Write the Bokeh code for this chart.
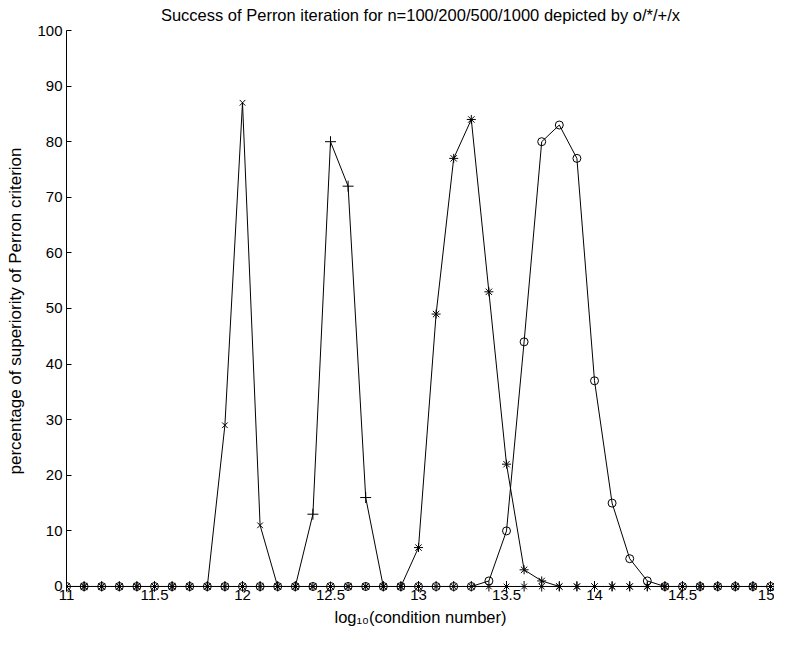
from bokeh.plotting import figure
from bokeh.models import Range1d, FixedTicker, NumeralTickFormatter
from bokeh.embed import file_html
from bokeh.resources import INLINE

# log10(condition number)
x_vals = [11.0, 11.1, 11.2, 11.3, 11.4, 11.5, 11.6, 11.7, 11.8, 11.9,
          12.0, 12.1, 12.2, 12.3, 12.4, 12.5, 12.6, 12.7, 12.8, 12.9,
          13.0, 13.1, 13.2, 13.3, 13.4, 13.5, 13.6, 13.7, 13.8, 13.9,
          14.0, 14.1, 14.2, 14.3, 14.4, 14.5, 14.6, 14.7, 14.8, 14.9,
          15.0]

# percentage of superiority of Perron criterion
n100_o = [0, 0, 0, 0, 0, 0, 0, 0, 0, 0,
          0, 0, 0, 0, 0, 0, 0, 0, 0, 0,
          0, 0, 0, 0, 1, 10, 44, 80, 83, 77,
          37, 15, 5, 1, 0, 0, 0, 0, 0, 0,
          0]
n200_star = [0, 0, 0, 0, 0, 0, 0, 0, 0, 0,
             0, 0, 0, 0, 0, 0, 0, 0, 0, 0,
             7, 49, 77, 84, 53, 22, 3, 1, 0, 0,
             0, 0, 0, 0, 0, 0, 0, 0, 0, 0,
             0]
n500_plus = [0, 0, 0, 0, 0, 0, 0, 0, 0, 0,
             0, 0, 0, 0, 13, 80, 72, 16, 0, 0,
             0, 0, 0, 0, 0, 0, 0, 0, 0, 0,
             0, 0, 0, 0, 0, 0, 0, 0, 0, 0,
             0]
n1000_x = [0, 0, 0, 0, 0, 0, 0, 0, 0, 29,
           87, 11, 0, 0, 0, 0, 0, 0, 0, 0,
           0, 0, 0, 0, 0, 0, 0, 0, 0, 0,
           0, 0, 0, 0, 0, 0, 0, 0, 0, 0,
           0]

x_ticks = [11, 11.5, 12, 12.5, 13, 13.5, 14, 14.5, 15]
y_ticks = [0, 10, 20, 30, 40, 50, 60, 70, 80, 90, 100]

FONT = "Liberation Sans"

p = figure(width=774, height=630, output_backend="svg", toolbar_location=None,
           x_range=Range1d(11, 15.0227), y_range=Range1d(-0.9, 100),
           min_border_left=66, min_border_right=0, min_border_top=30,
           min_border_bottom=39,
           title="Success of Perron iteration for n=100/200/500/1000 depicted by o/*/+/x")

p.title.text_font = FONT
p.title.text_font_style = "normal"
p.title.text_font_size = "16.5px"
p.title.align = "center"
p.title.vertical_align = "top"
p.title.standoff = 10
p.title.text_color = "black"

p.xgrid.visible = False
p.ygrid.visible = False
p.outline_line_color = None
p.background_fill_color = "white"
p.border_fill_color = "white"

xa = p.xaxis[0]
xa.ticker = FixedTicker(ticks=x_ticks)
xa.formatter = NumeralTickFormatter(format="0.[0]")
xa.axis_label = "log\u2081\u2080(condition number)"
xa.axis_line_color = None          # the zero lines of the data serve as the axis line
xa.major_tick_in = 10
xa.major_label_standoff = -2
xa.axis_label_standoff = 5
xa.axis_label_text_font_size = "16.5px"

ya = p.yaxis[0]
ya.bounds = (0, 100)
ya.ticker = FixedTicker(ticks=y_ticks)
ya.axis_label = "percentage of superiority of Perron criterion"
ya.axis_line_color = "black"
ya.major_tick_in = 5
ya.major_label_standoff = 4
ya.axis_label_standoff = 9
ya.axis_label_text_font_size = "17px"

for ax in (xa, ya):
    ax.axis_line_width = 1
    ax.major_tick_line_color = "black"
    ax.major_tick_out = 0
    ax.minor_tick_line_color = None
    ax.major_label_text_font = FONT
    ax.major_label_text_font_size = "15px"
    ax.major_label_text_color = "black"
    ax.axis_label_text_font = FONT
    ax.axis_label_text_font_style = "normal"
    ax.axis_label_text_color = "black"

series = [
    (n100_o, "circle", 8),
    (n200_star, "asterisk", 9),
    (n500_plus, "cross", 11),
    (n1000_x, "x", 8),
]
for ys, marker, size in series:
    p.line(x_vals, ys, line_color="black", line_width=1)
    p.scatter(x_vals, ys, marker=marker, size=size, line_color="black",
              fill_color=None, line_width=1)

open("out.html", "w").write(file_html(p, INLINE))
